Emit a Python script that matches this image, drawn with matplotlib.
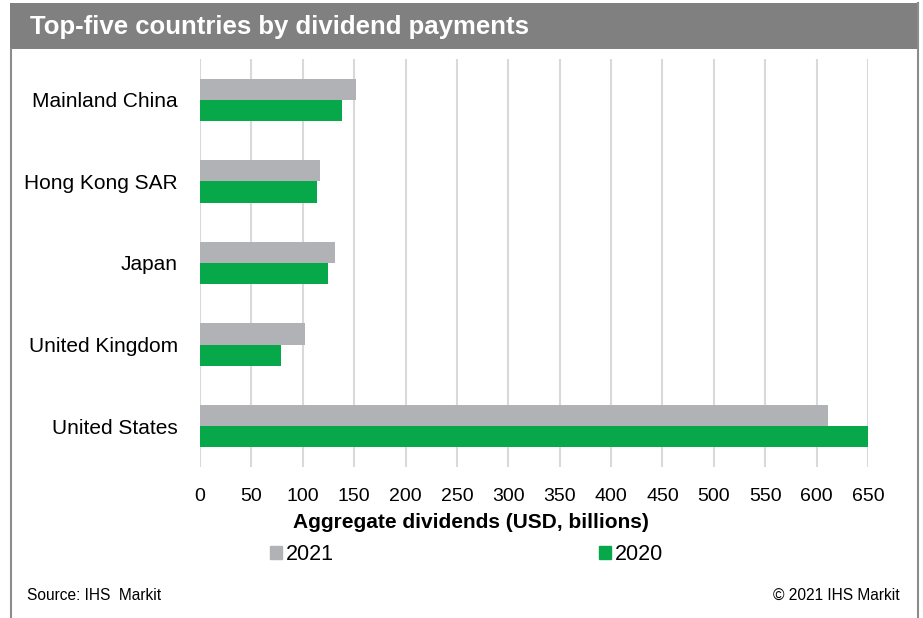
import matplotlib.pyplot as plt
import matplotlib.patches as mpatches
from matplotlib.lines import Line2D
import numpy as np

plt.rcParams['font.family'] = ['Liberation Sans', 'DejaVu Sans']

countries = ["Mainland China", "Hong Kong SAR", "Japan", "United Kingdom", "United States"]
div_2021 = [152, 117, 131, 102, 611]
div_2020 = [138, 114, 124.5, 79, 651]
xticks = list(range(0, 651, 50))

GREY = "#b1b2b5"
GREEN = "#07a84a"

W, H = 923, 618
fig = plt.figure(figsize=(W / 100, H / 100), dpi=100)

# header band + frame
fig.add_artist(mpatches.Rectangle((10 / W, 1 - 49 / H), 908 / W, 46 / H,
                                  transform=fig.transFigure, facecolor="#808080",
                                  edgecolor="none"))
fig.add_artist(Line2D([10.5 / W, 10.5 / W], [0, 1 - 49 / H], transform=fig.transFigure,
                      color="#8c8c8c", lw=1.5))
fig.add_artist(Line2D([918 / W, 918 / W], [0, 1 - 3 / H], transform=fig.transFigure,
                      color="#8c8c8c", lw=1.5))
fig.text(30 / W, 1 - 27 / H, "Top-five countries by dividend payments", color="white",
         fontsize=18.5, fontweight="bold", va="center", ha="left")

ax = fig.add_axes([200 / W, 1 - 467 / H, 668 / W, 408 / H])

y = np.arange(len(countries))
h = 0.26
ax.barh(y - h / 2, div_2021, height=h, color=GREY, label="2021", zorder=2)
ax.barh(y + h / 2, div_2020, height=h, color=GREEN, label="2020", zorder=2)

ax.set_ylim(len(countries) - 0.5, -0.5)
ax.set_xlim(0, 650)
ax.set_yticks(y)
ax.set_yticklabels(countries, fontsize=15)
ax.set_xticks(xticks)
ax.set_xticklabels([str(t) for t in xticks], fontsize=14)
ax.tick_params(length=0)
ax.tick_params(axis="y", pad=16)
ax.tick_params(axis="x", pad=15)
ax.grid(axis="x", color="#d9d9d9", lw=1.5, zorder=0)
ax.set_axisbelow(True)
for s in ax.spines.values():
    s.set_visible(False)

fig.text(471 / W, 1 - 523 / H, "Aggregate dividends (USD, billions)", fontsize=15,
         fontweight="bold", ha="center", va="center")

handles = [mpatches.Patch(color=GREY, label="2021"),
           mpatches.Patch(color=GREEN, label="2020")]
fig.legend(handles=handles, loc="center left", bbox_to_anchor=(270 / W, 1 - 555 / H),
           ncol=2, frameon=False, fontsize=15.5, handlelength=0.55, handleheight=0.55,
           handletextpad=0.2, columnspacing=12.3, borderaxespad=0, borderpad=0)

fig.text(27 / W, 1 - 595 / H, "Source: IHS  Markit", fontsize=11.2, va="center", ha="left")
fig.text(900 / W, 1 - 595 / H, "\u00a9 2021 IHS Markit", fontsize=11.2, va="center", ha="right")

fig.savefig("out.png", dpi=100)
